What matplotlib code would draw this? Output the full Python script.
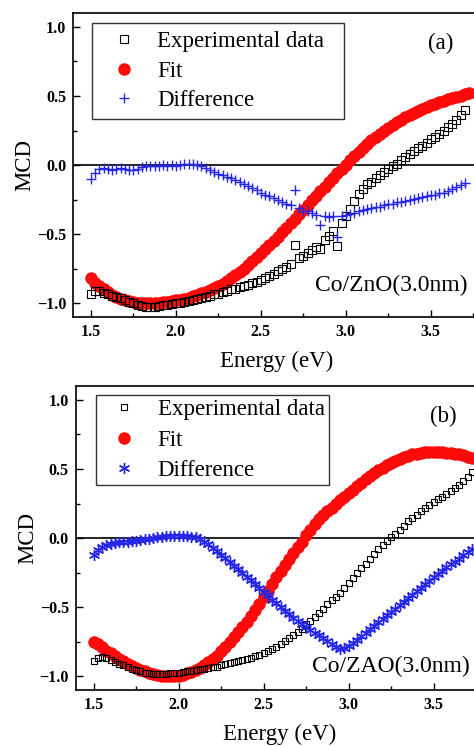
import numpy as np
import matplotlib
matplotlib.use("Agg")
import matplotlib.pyplot as plt
from matplotlib.ticker import MultipleLocator

plt.rcParams['font.family'] = ['Liberation Serif', 'DejaVu Serif']

# photon energy grid (eV), 1.500 ... 3.725
energy = np.round(np.arange(1.5, 3.7251, 0.025), 3)

# panel (a) Co/ZnO(3.0nm)
exp_a = [-0.93, -0.91, -0.915, -0.925, -0.935, -0.945, -0.955, -0.965, -0.975, -0.99,
         -1.0, -1.01, -1.02, -1.025, -1.025, -1.025, -1.02, -1.015, -1.01, -1.005,
         -1.0, -0.995, -0.99, -0.985, -0.98, -0.97, -0.965, -0.955, -0.945, -0.935,
         -0.93, -0.92, -0.91, -0.9, -0.895, -0.885, -0.875, -0.865, -0.855, -0.845,
         -0.83, -0.815, -0.8, -0.785, -0.77, -0.755, -0.735, -0.715, -0.575, -0.675,
         -0.655, -0.635, -0.615, -0.595, -0.61, -0.545, -0.51, -0.475, -0.585, -0.42,
         -0.37, -0.32, -0.26, -0.21, -0.17, -0.14, -0.12, -0.095, -0.07, -0.05,
         -0.03, -0.01, 0.01, 0.035, 0.06, 0.08, 0.10, 0.12, 0.14, 0.16,
         0.185, 0.205, 0.225, 0.25, 0.275, 0.30, 0.325, 0.36, 0.40, np.nan]
fit_a = [-0.82, -0.85, -0.875, -0.90, -0.92, -0.94, -0.955, -0.968, -0.978, -0.986,
         -0.992, -0.996, -0.999, -1.0, -1.0, -0.999, -0.997, -0.994, -0.99, -0.985,
         -0.98, -0.974, -0.967, -0.959, -0.95, -0.94, -0.929, -0.917, -0.904, -0.89,
         -0.875, -0.858, -0.84, -0.82, -0.798, -0.775, -0.75, -0.724, -0.697, -0.669,
         -0.64, -0.61, -0.58, -0.549, -0.518, -0.486, -0.454, -0.421, -0.388, -0.355,
         -0.322, -0.289, -0.256, -0.223, -0.19, -0.157, -0.124, -0.092, -0.06, -0.029,
         0.002, 0.034, 0.065, 0.095, 0.124, 0.152, 0.178, 0.203, 0.227, 0.25,
         0.271, 0.291, 0.31, 0.328, 0.345, 0.361, 0.377, 0.392, 0.406, 0.419,
         0.431, 0.443, 0.454, 0.465, 0.475, 0.485, 0.494, 0.503, 0.512, 0.52]
diff_a = [-0.10, -0.06, -0.03, -0.02, -0.025, -0.035, -0.03, -0.02, -0.03, -0.035,
          -0.035, -0.03, -0.015, -0.01, -0.005, -0.01, -0.005, 0.0, -0.005, 0.0,
          -0.005, 0.0, 0.005, 0.01, 0.005, 0.0, -0.01, -0.02, -0.035, -0.05,
          -0.065, -0.075, -0.085, -0.095, -0.11, -0.125, -0.14, -0.155, -0.165, -0.18,
          -0.2, -0.215, -0.225, -0.24, -0.255, -0.265, -0.28, -0.29, -0.18, -0.31,
          -0.33, -0.335, -0.35, -0.36, -0.435, -0.37, -0.375, -0.37, -0.52, -0.37,
          -0.365, -0.355, -0.345, -0.335, -0.325, -0.32, -0.31, -0.305, -0.3, -0.29,
          -0.285, -0.28, -0.27, -0.265, -0.26, -0.25, -0.245, -0.24, -0.23, -0.225,
          -0.22, -0.215, -0.205, -0.2, -0.19, -0.175, -0.16, -0.145, -0.13, np.nan]

# panel (b) Co/ZAO(3.0nm)
exp_b = [-0.89, -0.865, -0.86, -0.87, -0.885, -0.895, -0.91, -0.92, -0.935, -0.945,
         -0.955, -0.965, -0.975, -0.98, -0.985, -0.985, -0.985, -0.985, -0.98, -0.98,
         -0.975, -0.97, -0.965, -0.96, -0.955, -0.95, -0.945, -0.94, -0.935, -0.93,
         -0.92, -0.915, -0.905, -0.9, -0.89, -0.885, -0.875, -0.865, -0.855, -0.845,
         -0.83, -0.815, -0.8, -0.785, -0.765, -0.745, -0.725, -0.705, -0.68, -0.655,
         -0.625, -0.6, -0.57, -0.54, -0.51, -0.48, -0.45, -0.425, -0.395, -0.36,
         -0.325, -0.29, -0.255, -0.22, -0.185, -0.15, -0.115, -0.08, -0.05, -0.02,
         0.005, 0.03, 0.06, 0.09, 0.12, 0.145, 0.17, 0.195, 0.22, 0.24,
         0.26, 0.28, 0.3, 0.32, 0.34, 0.36, 0.385, 0.41, 0.44, 0.475]
fit_b = [-0.75, -0.77, -0.79, -0.815, -0.835, -0.855, -0.875, -0.89, -0.91, -0.925,
         -0.94, -0.955, -0.965, -0.975, -0.985, -0.993, -0.998, -1.0, -1.0, -1.0,
         -0.995, -0.99, -0.98, -0.97, -0.955, -0.94, -0.92, -0.9, -0.875, -0.85,
         -0.82, -0.785, -0.75, -0.715, -0.68, -0.645, -0.605, -0.565, -0.52, -0.475,
         -0.43, -0.38, -0.335, -0.285, -0.24, -0.195, -0.15, -0.105, -0.065, -0.025,
         0.02, 0.06, 0.1, 0.135, 0.165, 0.195, 0.22, 0.25, 0.275, 0.3,
         0.325, 0.35, 0.375, 0.4, 0.425, 0.45, 0.47, 0.49, 0.51, 0.53,
         0.545, 0.56, 0.575, 0.585, 0.595, 0.605, 0.61, 0.615, 0.62, 0.62,
         0.62, 0.62, 0.62, 0.615, 0.615, 0.61, 0.605, 0.6, 0.59, 0.58]
diff_b = [-0.125, -0.09, -0.065, -0.05, -0.045, -0.035, -0.03, -0.03, -0.025, -0.02,
          -0.02, -0.015, -0.01, -0.005, 0.0, 0.005, 0.01, 0.015, 0.015, 0.015,
          0.015, 0.015, 0.015, 0.01, 0.005, -0.01, -0.025, -0.045, -0.07, -0.095,
          -0.12, -0.145, -0.17, -0.2, -0.225, -0.25, -0.28, -0.305, -0.335, -0.36,
          -0.39, -0.415, -0.445, -0.47, -0.5, -0.525, -0.55, -0.575, -0.6, -0.62,
          -0.645, -0.665, -0.685, -0.705, -0.725, -0.745, -0.765, -0.785, -0.8, -0.795,
          -0.78, -0.76, -0.735, -0.71, -0.685, -0.66, -0.635, -0.61, -0.585, -0.56,
          -0.535, -0.51, -0.485, -0.46, -0.435, -0.41, -0.385, -0.36, -0.335, -0.31,
          -0.285, -0.26, -0.235, -0.21, -0.19, -0.17, -0.15, -0.125, -0.1, -0.08]

labels = ['Experimental data', 'Fit', 'Difference']

RED = '#ff0a0a'
BLUE = '#2626e6'

# tag, sample label, data, difference marker, square size, axes rect, legend settings, sample label y
panels = [
    dict(tag='(a)', sample='Co/ZnO(3.0nm)', exp=exp_a, fit=fit_a, diff=diff_a,
         dmark='+', dms=7.5, sq=5.3, rect=[0.154, 0.575, 0.859, 0.4075],
         leg=dict(bbox_to_anchor=(0.047, 0.968, 0.619, 0), borderpad=0.37,
                  labelspacing=0.36, handlelength=2.05, handletextpad=0.42),
         sy=0.103),
    dict(tag='(b)', sample='Co/ZAO(3.0nm)', exp=exp_b, fit=fit_b, diff=diff_b,
         dmark=(6, 2, 0), dms=8.0, sq=4.0, rect=[0.160, 0.075, 0.859, 0.4075],
         leg=dict(bbox_to_anchor=(0.049, 0.970, 0.572, 0), borderpad=0.17,
                  labelspacing=0.42, handlelength=2.1, handletextpad=0.43),
         sy=0.079),
]

fig = plt.figure(figsize=(4.74, 7.46), dpi=100)

for p in panels:
    ax = fig.add_axes(p['rect'])
    ax.axhline(0, color='black', lw=1.2, zorder=1)
    ax.plot(energy, p['fit'], ls='none', marker='o', ms=8.0, color=RED, mec=RED, zorder=2,
            label=labels[1])
    ax.plot(energy, p['exp'], ls='none', marker='s', ms=p['sq'], mfc='none', mec='black',
            mew=0.8, zorder=3, label=labels[0])
    ax.plot(energy, p['diff'], ls='none', marker=p['dmark'], ms=p['dms'], color=BLUE, mew=1.0,
            zorder=4, label=labels[2])

    ax.set_xlim(1.395, 3.79)
    ax.set_ylim(-1.1, 1.1)
    ax.xaxis.set_major_locator(MultipleLocator(0.5))
    ax.xaxis.set_minor_locator(MultipleLocator(0.25))
    ax.yaxis.set_major_locator(MultipleLocator(0.5))
    ax.yaxis.set_minor_locator(MultipleLocator(0.25))
    ax.tick_params(which='both', direction='in', width=1.0, labelsize=11.5, pad=5)
    ax.tick_params(which='major', length=5)
    ax.tick_params(which='minor', length=3)
    for lab in ax.get_xticklabels() + ax.get_yticklabels():
        lab.set_fontweight('bold')
    for sp in ax.spines.values():
        sp.set_linewidth(1.2)

    ax.set_xlabel('Energy (eV)', fontsize=16.5, labelpad=8)
    ax.set_ylabel('MCD', fontsize=16.5, labelpad=1)

    h, l = ax.get_legend_handles_labels()
    order = [1, 0, 2]
    leg = ax.legend([h[i] for i in order], [l[i] for i in order], loc='upper left',
                    mode='expand', borderaxespad=0, fontsize=16.5, frameon=True,
                    fancybox=False, edgecolor='#333333', framealpha=1, **p['leg'])
    leg.get_frame().set_linewidth(1.0)

    ax.text(0.902, 0.9, p['tag'], transform=ax.transAxes, fontsize=16.5, ha='center', va='center')
    ax.text(0.968, p['sy'], p['sample'], transform=ax.transAxes, fontsize=17,
            ha='right', va='center')

plt.savefig('out.png', dpi=100)
